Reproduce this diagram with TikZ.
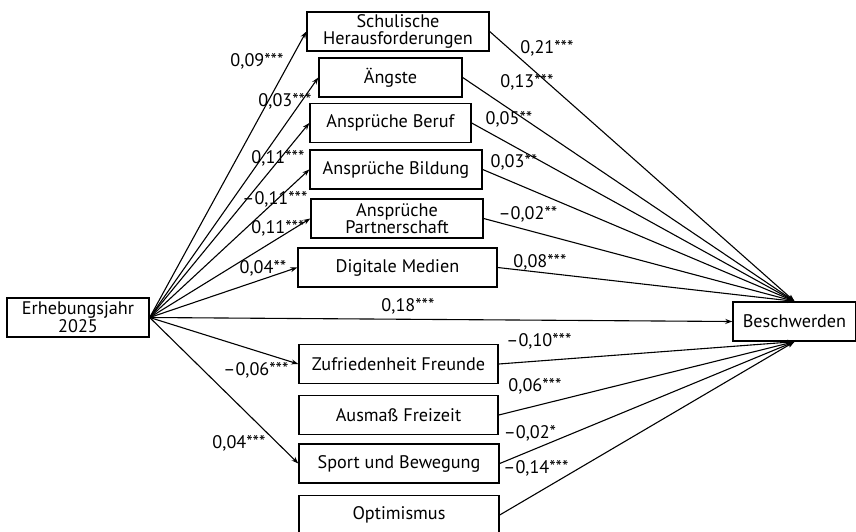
\documentclass[tikz,border=0pt]{standalone}
\usepackage{fontspec}
\setmainfont{PT Sans}
\usetikzlibrary{arrows.meta,calc,positioning}

\begin{document}
\begin{tikzpicture}[x=1pt,y=-1pt,line width=1.1pt,>={Stealth[length=7pt,width=5pt]},
every node/.style={rectangle,draw,line width=1.4pt,minimum height=39pt,inner sep=1pt,
align=center,font=\fontsize{18.2}{17.5}\selectfont}]
\clip (0,0) rectangle (856,531);
\node[minimum width=142pt,font=\fontsize{18.2}{18}\selectfont] (E) at (78,317.5) {Erhebungsjahr\\2025};
\node[minimum width=182pt] (M1) at (398,31.5) {Schulische\\Herausforderungen};
\node[minimum width=143pt] (M2) at (390.5,77.5) {Ängste};
\node[minimum width=161pt] (M3) at (390.5,123) {Ansprüche Beruf};
\node[minimum width=172pt] (M4) at (396,169.5) {Ansprüche Bildung};
\node[minimum width=172pt] (M5) at (397,218.5) {Ansprüche\\Partnerschaft};
\node[minimum width=199pt] (M6) at (397.5,267.5) {Digitale Medien};
\node[minimum width=199pt] (M7) at (398.5,364) {Zufriedenheit Freunde};
\node[minimum width=199pt] (M8) at (398.5,415) {Ausmaß Freizeit};
\node[minimum width=200pt] (M9) at (399,463.5) {Sport und Bewegung};
\node[minimum width=200pt] (M10) at (399,515) {Optimismus};
\node[minimum width=123pt] (B) at (794.5,321.5) {Beschwerden};
\draw[->] (E.east)--(M1.west);
\draw[->] (E.east)--(M2.west);
\draw[->] (E.east)--(M3.west);
\draw[->] (E.east)--(M4.west);
\draw[->] (E.east)--(M5.west);
\draw[->] (E.east)--(M6.west);
\draw[->] (E.east)--(B.west);
\draw[->] (E.east)--(M7.west);
\draw[->] (E.east)--(M9.west);
\draw[->] (M1.east)--(B.north);
\draw[->] (M2.east)--(B.north);
\draw[->] (M3.east)--(B.north);
\draw[->] (M4.east)--(B.north);
\draw[->] (M5.east)--(B.north);
\draw[->] (M6.east)--(B.north);
\draw[->] (M7.east)--(B.south);
\draw[->] (M8.east)--(B.south);
\draw[->] (M9.east)--(B.south);
\draw[->] (M10.east)--(B.south);
\node[style={draw=none}] (L1) at (257,61) {0,09***};
\node[style={draw=none}] (L2) at (285,101) {0,03***};
\node[style={draw=none}] (L3) at (278,158) {0,11***};
\node[style={draw=none}] (L4) at (275,199) {–0,11***};
\node[style={draw=none}] (L5) at (278,228) {0,11***};
\node[style={draw=none}] (L6) at (263,268) {0,04**};
\node[style={draw=none}] (L7) at (408,306) {0,18***};
\node[style={draw=none}] (L8) at (256,370) {–0,06***};
\node[style={draw=none}] (L9) at (239,443) {0,04***};
\node[style={draw=none}] (R1) at (547,48) {0,21***};
\node[style={draw=none}] (R2) at (527,82) {0,13***};
\node[style={draw=none}] (R3) at (509,119) {0,05**};
\node[style={draw=none}] (R4) at (514,162) {0,03**};
\node[style={draw=none}] (R5) at (528,214) {–0,02**};
\node[style={draw=none}] (R6) at (540,262) {0,08***};
\node[style={draw=none}] (R7) at (539,341) {–0,10***};
\node[style={draw=none}] (R8) at (535,386) {0,06***};
\node[style={draw=none}] (R9) at (530,433) {–0,02*};
\node[style={draw=none}] (R10) at (536,468) {–0,14***};
\end{tikzpicture}
\end{document}
